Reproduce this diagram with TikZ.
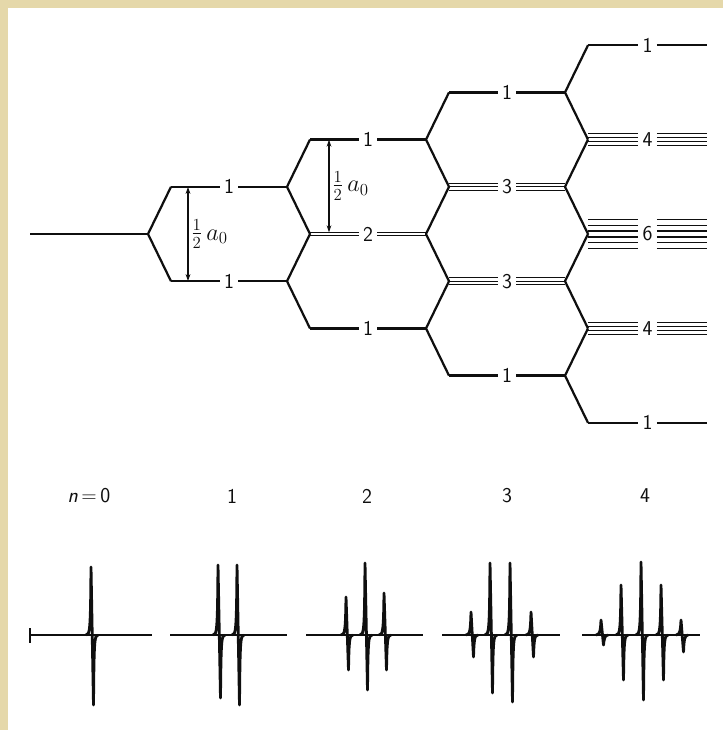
\documentclass[tikz,border=0pt]{standalone}
\usepackage{amsmath}
\usepackage{xcolor}
\usepackage{tikz}
\usetikzlibrary{
  arrows.meta,
  positioning,
  calc
}
\definecolor{xframe}{RGB}{229,216,170}
\definecolor{xink}{RGB}{15,15,15}

\begin{document}
\begin{tikzpicture}[x=0.3mm, y=-0.3mm,
  lvl/.style={line width=1.9pt, color=xink, line join=round},
  bundle/.style={line width=1.15pt, color=xink},
  num/.style={font=\sffamily\fontsize{18}{18}\selectfont, text=xink, inner xsep=3.5pt, inner ysep=0pt},
  dim/.style={{Stealth[length=6pt,width=4pt]}-{Stealth[length=6pt,width=4pt]}, line width=1.4pt, color=xink},
  half/.style={font=\fontsize{21}{21}\selectfont, text=xink, right, inner sep=2pt},
  base/.style={line width=1.9pt, color=xink},
  peak/.style={line width=2.4pt, color=xink, line join=round}
]
  \fill[xframe] (0,0) rectangle (723,730);
  \fill[white] (8,8) rectangle (723,730);

  \coordinate (s0) at (30,234);
  \coordinate (v0) at (148,234);
  \draw[lvl] (s0) -- (v0);

  \foreach \n/\j/\m in {1/3/1,1/5/1,2/2/1,2/4/2,2/6/1,3/1/1,3/3/3,3/5/3,3/7/1,4/0/1,4/2/4,4/4/6,4/6/4,4/8/1}{
    \pgfmathsetmacro{\yy}{234+47.2*(\j-4)}
    \pgfmathsetmacro{\xa}{148+139*(\n-1)+23}
    \pgfmathsetmacro{\xb}{\n<4 ? 148+139*\n : 707}
    \pgfmathsetmacro{\sp}{\m==6 ? 5.8 : (\m==4 ? 3.9 : 3.4)}
    \coordinate (br\n\j) at (\xa,\yy);
    \coordinate (vx\n\j) at (\xb,\yy);
    \node[num] (lab\n\j) at ({(\xa+\xb)/2},\yy) {\m};
    \foreach \i in {1,...,\m}{
      \pgfmathsetmacro{\off}{(\i-(\m+1)/2)*\sp}
      \ifnum\m=1
        \draw[lvl] (br\n\j) -- (lab\n\j.west);
        \draw[lvl] (lab\n\j.east) -- (vx\n\j);
      \else
        \draw[bundle] ($(br\n\j)+(0,\off)$) -- ($(lab\n\j.west)+(0,\off)$);
        \draw[bundle] ($(lab\n\j.east)+(0,\off)$) -- ($(vx\n\j)+(0,\off)$);
      \fi
    }
  }

  \draw[lvl] (br13) -- (v0) -- (br15);
  \foreach \p/\j in {1/3,1/5,2/2,2/4,2/6,3/1,3/3,3/5,3/7}{
    \pgfmathtruncatemacro{\q}{\p+1}
    \pgfmathtruncatemacro{\jl}{\j-1}
    \pgfmathtruncatemacro{\jh}{\j+1}
    \draw[lvl] (br\q\jl) -- (vx\p\j) -- (br\q\jh);
  }

  \draw[dim] ($(br13)+(17,0)$) -- node[half] (hw1) {$\tfrac{1}{2}\,a_0$} ($(br15)+(17,0)$);
  \draw[dim] ($(br22)+(19,0)$) -- node[half] (hw2) {$\tfrac{1}{2}\,a_0$} ($(br24)+(19,-1.7)$);

  \node[num] (n0) at (89,496) {\textit{n}\,=\,0};
  \node[num] (n1) at (232,496) {1};
  \node[num] (n2) at (367,496) {2};
  \node[num] (n3) at (507,496) {3};
  \node[num] (n4) at (645,496) {4};

  \draw[base] (30,628) -- (30,643);
  \foreach \xs/\xe in {30/152, 170/287, 306/423, 442/560, 582/700}
    \draw[base] (\xs,635) -- (\xe,635);
  \foreach \x/\t/\b in {92/567/705, 219/565/698, 238/565/705, 347/597/670, 366/563/690, 385/593/670,
                        472/612/657, 491/563/693, 511/563/702, 532/612/657,
                        602/620/645, 622/585/680, 642/562/700, 662/585/680, 682/620/652}
    \draw[peak] (\x-6,635) .. controls (\x-2,635) and (\x-1.5,630) .. (\x-1,\t)
                -- (\x+1.5,\b) .. controls (\x+2,640) and (\x+2.5,635) .. (\x+6,635);
\end{tikzpicture}
\end{document}
